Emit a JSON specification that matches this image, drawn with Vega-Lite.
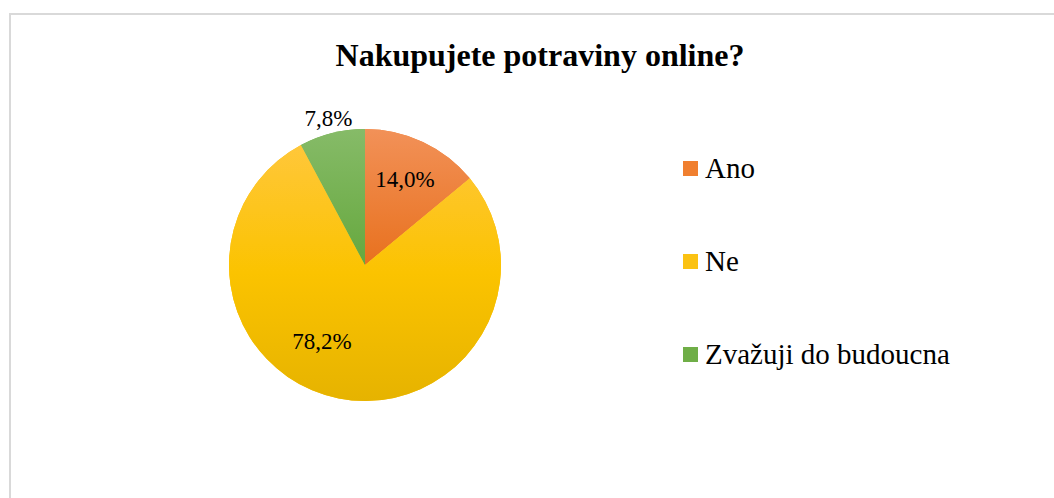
{
  "$schema": "https://vega.github.io/schema/vega-lite/v6.json",
  "autosize": "none",
  "padding": {"left": 10, "top": 14, "right": 0, "bottom": 0},
  "width": 1100,
  "height": 520,
  "background": "white",
  "view": {"stroke": "#d9d9d9", "strokeWidth": 2},
  "config": {
    "style": {"view": {"stroke": "#d9d9d9", "strokeWidth": 2}},
    "font": "Liberation Serif",
    "legend": {"labelFont": "Liberation Serif"}
  },
  "title": {
    "text": "Nakupujete potraviny online?",
    "font": "Liberation Serif",
    "fontSize": 32,
    "fontWeight": "bold",
    "color": "black",
    "anchor": "middle",
    "baseline": "alphabetic",
    "offset": -84,
    "dx": -20
  },
  "data": {
    "values": [
      {"Kategorie": "Ano", "Podil": 14.0, "Popisek": "14,0%"},
      {"Kategorie": "Ne", "Podil": 78.2, "Popisek": "78,2%"},
      {"Kategorie": "Zvažuji do budoucna", "Podil": 7.8, "Popisek": "7,8%"}
    ]
  },
  "encoding": {
    "theta": {"field": "Podil", "type": "quantitative", "stack": true},
    "order": {"field": "Kategorie", "sort": "ascending"}
  },
  "layer": [
    {
      "mark": {"type": "arc", "x": 355, "y": 251, "outerRadius": 136},
      "encoding": {
        "color": {
          "field": "Kategorie",
          "type": "nominal",
          "scale": {
            "domain": ["Ano", "Ne", "Zvažuji do budoucna"],
            "range": ["#F07F2F", "#FBC212", "#6FAE47"]
          },
          "legend": {
            "title": null,
            "orient": "none",
            "legendX": 666,
            "legendY": 140,
            "symbolType": "square",
            "symbolSize": 225,
            "symbolStrokeWidth": 0,
            "labelFont": "Liberation Serif",
            "labelFontSize": 29,
            "labelColor": "black",
            "labelOffset": 0,
            "rowPadding": 63,
            "labelLimit": 400,
            "encode": {"labels": {"update": {"font": {"value": "Liberation Serif"}}}}
          }
        }
      }
    },
    {
      "mark": {"type": "arc", "x": 355, "y": 251, "outerRadius": 136},
      "encoding": {
        "fill": {
          "condition": [
            {"test": "datum.Kategorie == 'Ano'", "value": {"gradient": "linear", "x1": 0, "y1": 0, "x2": 0, "y2": 1, "stops": [{"offset": 0, "color": "#F29158"}, {"offset": 1, "color": "#E8711E"}]}},
            {"test": "datum.Kategorie == 'Ne'", "value": {"gradient": "linear", "x1": 0, "y1": 0, "x2": 0, "y2": 1, "stops": [{"offset": 0, "color": "#FFC73A"}, {"offset": 0.5, "color": "#FBC300"}, {"offset": 1, "color": "#E6B300"}]}}
          ],
          "value": {"gradient": "linear", "x1": 0, "y1": 0, "x2": 0, "y2": 1, "stops": [{"offset": 0, "color": "#86BB68"}, {"offset": 1, "color": "#66A83E"}]}
        }
      }
    },
    {
      "mark": {"type": "text", "x": 355, "y": 251, "radius": 94, "font": "Liberation Serif", "fontSize": 23, "color": "black"},
      "encoding": {"text": {"condition": {"test": "datum.Kategorie == 'Ano'", "field": "Popisek"}, "value": ""}}
    },
    {
      "mark": {"type": "text", "x": 355, "y": 251, "radius": 88, "dx": -26, "dy": -9, "font": "Liberation Serif", "fontSize": 23, "color": "black"},
      "encoding": {"text": {"condition": {"test": "datum.Kategorie == 'Ne'", "field": "Popisek"}, "value": ""}}
    },
    {
      "mark": {"type": "text", "x": 355, "y": 251, "radius": 151, "font": "Liberation Serif", "fontSize": 23, "color": "black"},
      "encoding": {"text": {"condition": {"test": "datum.Kategorie == 'Zvažuji do budoucna'", "field": "Popisek"}, "value": ""}}
    }
  ]
}
